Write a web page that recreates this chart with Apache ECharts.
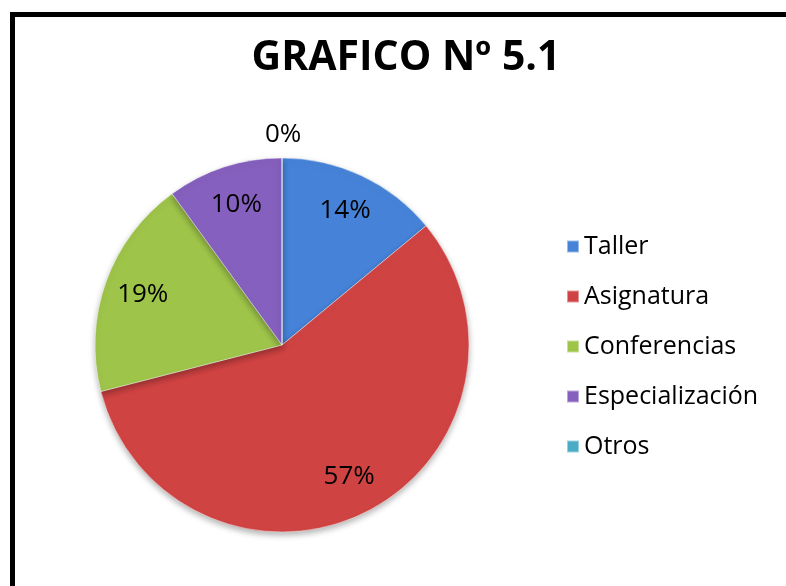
<!DOCTYPE html>
<html>
<head>
<meta charset="utf-8">
<script src="https://cdn.jsdelivr.net/npm/echarts@6/dist/echarts.min.js"></script>
<style>
  html, body { margin: 0; padding: 0; background: #fff; }
  #frame {
    position: absolute; left: 10px; top: 12px; width: 900px; height: 700px;
    border-left: 5px solid #000; border-top: 5px solid #000;
  }
  #chart { position: absolute; left: 0; top: 0; width: 786px; height: 586px; }
</style>
</head>
<body>
<div id="frame"></div>
<div id="chart"></div>
<script>
const categories = ['Taller', 'Asignatura', 'Conferencias', 'Especialización', 'Otros'];
const percents = [14, 57, 19, 10, 0];
const sliceColors = ['#4683D8', '#D04343', '#9EC44A', '#8660BE', '#4BACC6'];

const chart = echarts.init(document.getElementById('chart'));
const font = "'Open Sans', sans-serif";

const center = [282, 345];
const outer = 187;

chart.setOption({
  backgroundColor: 'transparent',
  animation: false,
  color: sliceColors,
  title: {
    text: 'GRAFICO Nº 5.1',
    left: 401,
    top: 33,
    textAlign: 'center',
    textStyle: { fontFamily: font, fontSize: 41, fontWeight: 'bold', color: '#000' }
  },
  legend: {
    orient: 'vertical',
    left: 561,
    top: 229,
    itemWidth: 12,
    itemHeight: 12,
    itemGap: 25,
    icon: 'rect',
    data: categories,
    textStyle: { fontFamily: font, fontSize: 25, lineHeight: 25, color: '#000' }
  },
  series: [
    {
      // the pie itself
      type: 'pie',
      center: center,
      radius: [0, outer],
      startAngle: 90,
      clockwise: true,
      label: { show: false },
      labelLine: { show: false },
      itemStyle: {
        borderColor: 'rgba(255,255,255,0.45)',
        borderWidth: 1,
        shadowBlur: 6,
        shadowOffsetY: 3,
        shadowColor: 'rgba(0,0,0,0.3)'
      },
      data: categories.map((name, i) => ({ name, value: percents[i] }))
    },
    {
      // transparent ring only used to place the labels further out
      type: 'pie',
      center: center,
      radius: [103, outer],
      startAngle: 90,
      clockwise: true,
      silent: true,
      avoidLabelOverlap: false,
      itemStyle: { color: 'rgba(0,0,0,0)' },
      label: {
        show: true,
        position: 'inside',
        formatter: '{d}%',
        fontFamily: font,
        fontSize: 26,
        color: '#000'
      },
      labelLine: { show: false },
      data: categories.map((name, i) => {
        const item = { name, value: percents[i] };
        if (percents[i] === 0) {
          item.label = { position: 'outside', distanceToLabelLine: -17 };
          item.labelLine = { show: false, length: 23, length2: 0 };
        }
        return item;
      })
    }
  ]
});
</script>
</body>
</html>
